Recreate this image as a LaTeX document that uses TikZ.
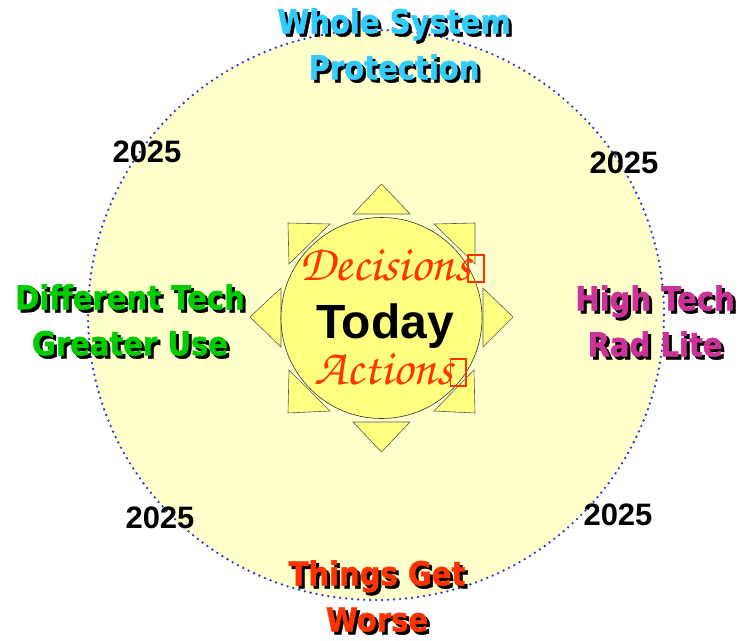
\documentclass[tikz,border=0pt]{standalone}
\usepackage[T1]{fontenc}
\usepackage{fontspec}
\newfontfamily\lblfont{DejaVu Sans}[FakeStretch=0.88, BoldFeatures={FakeBold=1.3}]
\newfontfamily\arialfont{Liberation Sans}
\newcommand\scriptfnt{\fontencoding{T1}\fontfamily{pzc}\fontseries{mb}\fontshape{it}\selectfont}
\definecolor{bigbg}{RGB}{255,255,204}
\definecolor{sunfill}{RGB}{255,255,128}
\definecolor{dotblue}{RGB}{50,50,220}
\definecolor{skyblue}{RGB}{51,204,255}
\definecolor{techgreen}{RGB}{0,204,0}
\definecolor{techmag}{RGB}{204,51,153}
\definecolor{warnred}{RGB}{255,51,0}
\newcommand\tofu{\kern-3pt{\setlength\fboxsep{0pt}\setlength\fboxrule{1.8pt}\fbox{\rule{0pt}{25pt}\rule{14pt}{0pt}}}}
\newcommand\shadowlabel[4]{%
  \node[lbl, text=black, xshift=3pt, yshift=-3pt] at (#2) {#4};
  \node[lbl, text=#3] (#1) at (#2) {#4};}
\begin{document}
\begin{tikzpicture}[x=1pt,y=-1pt,
  lbl/.style={align=center, inner sep=0pt, font=\lblfont\bfseries\fontsize{33}{46}\selectfont},
  yearlbl/.style={inner sep=0pt, font=\arialfont\bfseries\fontsize{31}{36}\selectfont},
  tri/.style={fill=sunfill, draw=black!65, line width=0.6pt, line join=miter},
  scriptlbl/.style={inner sep=0pt, text=warnred, font=\scriptfnt\fontsize{51}{54}\selectfont}]
\useasboundingbox (0,0) rectangle (741,640);
\fill[white] (0,0) rectangle (741,640);
% big circle
\fill[bigbg] (376,315) ellipse [x radius=288, y radius=285];
\draw[dotblue, line width=2.6pt, line cap=round, dash pattern=on 0pt off 6pt] (376,315) ellipse [x radius=288, y radius=285];
% sun rays
\path[tri] (381.5,184) -- (410,214) -- (353,214) -- cycle;
\path[tri] (381.5,452) -- (410,422) -- (353,422) -- cycle;
\path[tri] (250,317) -- (281,288) -- (281,347) -- cycle;
\path[tri] (513,317) -- (483,288) -- (483,347) -- cycle;
\path[tri] (288,223) -- (330,224) -- (289,264) -- cycle;
\path[tri] (475,223) -- (434,224) -- (475,264) -- cycle;
\path[tri] (288,413) -- (330,411) -- (289,370) -- cycle;
\path[tri] (475,413) -- (434,411) -- (474,370) -- cycle;
\node[circle, minimum size=201pt, inner sep=0pt, fill=sunfill, draw=black!80, line width=0.6pt] (sun) at (381.5,318) {};
\node[inner sep=0pt, font=\arialfont\bfseries\fontsize{48}{52}\selectfont] (today) at (385,326) {Today};
\node[scriptlbl] (decisions) at (392,265) {Decisions\tofu};
\node[scriptlbl] (actions) at (391,370) {Actions\tofu};
% outer labels
\shadowlabel{whole}{394,44}{skyblue}{Whole System\\Protection}
\shadowlabel{diff}{130,320}{techgreen}{Different Tech\\Greater Use}
\shadowlabel{high}{655,321}{techmag}{High Tech\\Rad Lite}
\shadowlabel{worse}{377,596}{warnred}{Things Get\\Worse}
% years
\node[yearlbl] (y1) at (147,152) {2025};
\node[yearlbl] (y2) at (624,163) {2025};
\node[yearlbl] (y3) at (160,518) {2025};
\node[yearlbl] (y4) at (618,515) {2025};
\end{tikzpicture}
\end{document}
